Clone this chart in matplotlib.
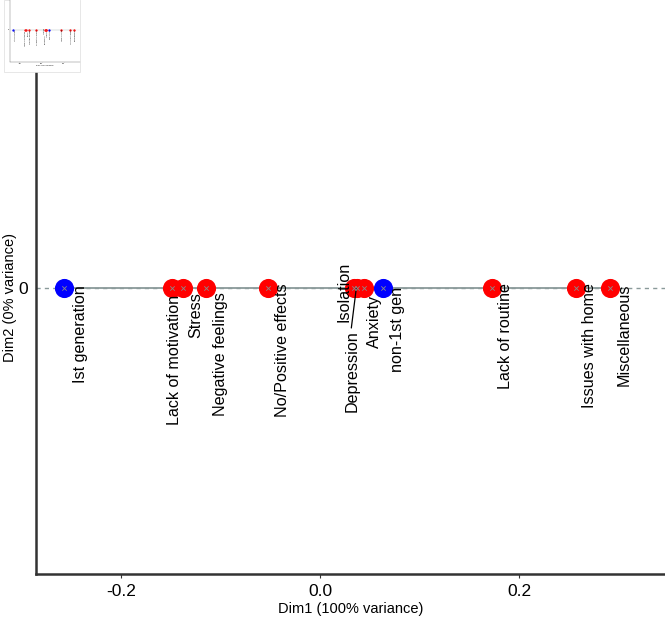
import matplotlib
matplotlib.use("Agg")
import matplotlib.pyplot as plt

plt.rcParams['font.family'] = ['Liberation Sans', 'DejaVu Sans']

# ---- data ----
labels = ["Ist generation", "Lack of motivation", "Stress", "Negative feelings",
          "No/Positive effects", "Isolation", "Depression", "Anxiety",
          "non-1st gen", "Lack of routine", "Issues with home", "Miscellaneous"]
dim1 = [-0.257, -0.149, -0.138, -0.115, -0.052, 0.034, 0.037, 0.044,
        0.063, 0.173, 0.257, 0.291]
dim2 = [0, 0, 0, 0, 0, 0, 0, 0, 0, 0, 0, 0]
groups = ["row", "col", "col", "col", "col", "col", "col", "col",
          "row", "col", "col", "col"]
xticks = [-0.2, 0.0, 0.2]
xticklabels = ["-0.2", "0.0", "0.2"]
yticks = [0]
yticklabels = ["0"]

# ---- styles ----
colors = {"row": "#0000FF", "col": "#FF0000"}
# label offsets in pixels (dx right, dy down from point to text top)
offsets = [(16, -3), (3, 7), (13, 4), (15, 4), (14, -5), (-10, -26),
           (-5, 42), (11, 7), (15, -1), (13, -5), (14, -5), (15, -5)]

W, H = 665, 618
fig = plt.figure(figsize=(W / 100, H / 100), dpi=100)
ax = fig.add_axes([36 / W, (H - 574) / H, (W - 36) / W, (574 - 22) / H])

xlim = (-0.2854, 0.3467)
top_frac = (574 - 288) / (574 - 22)
ylim = (-top_frac, 1 - top_frac)


def draw(a, small=False):
    s = 0.12 if small else 1.0
    a.axhline(0, color="#8a9a9a", lw=1.0 * s, ls=(0, (3, 3)), zorder=1)
    a.plot([min(dim1), max(dim1)], [0, 0], color="#8a9a9a", lw=1.3 * s, zorder=1)
    for x, y, g in zip(dim1, dim2, groups):
        a.scatter([x], [y], s=190 * s * s, color=colors[g], zorder=3, linewidths=0)
        a.scatter([x], [y], s=10 * s * s, marker="x", color="#8a8a8a",
                  linewidths=0.6 * s, zorder=4)
    for lab, x, y, (dx, dy) in zip(labels, dim1, dim2, offsets):
        a.annotate(lab, xy=(x, y), xytext=(dx * s, -dy * s), textcoords="offset pixels",
                   rotation=90, ha="center", va="top", fontsize=11.6 * s,
                   color="black", zorder=5)
    a.set_xlim(xlim)
    a.set_ylim(ylim)
    a.set_xticks(xticks)
    a.set_xticklabels(xticklabels, fontsize=12.5 * s)
    a.set_yticks(yticks)
    a.set_yticklabels(yticklabels, fontsize=12.5 * s)
    a.tick_params(axis="x", length=3 * s, width=0.8 * s, color="#333333", pad=4 * s)
    a.tick_params(axis="y", length=0, pad=6 * s)
    for sp in ["top", "right"]:
        a.spines[sp].set_visible(False)
    for sp in ["left", "bottom"]:
        a.spines[sp].set_color("#333333")
        a.spines[sp].set_linewidth(1.8 * s)
    a.set_xlabel("Dim1 (100% variance)", fontsize=10.5 * s, labelpad=2 * s)


draw(ax)
# Depression leader segment
ax.annotate("", xy=(0.0365, 0), xytext=(-5, -40), textcoords="offset pixels",
            xycoords="data",
            arrowprops=dict(arrowstyle="-", color="black", lw=0.9, shrinkA=0, shrinkB=0))
fig.text(10 / W, 1 - 298 / H, "Dim2 (0% variance)", rotation=90, ha="center",
         va="center", fontsize=10.5)

# small thumbnail in top-left corner
ins = fig.add_axes([10 / W, 1 - 62 / H, 70 / W, 62 / H], zorder=10)
ins.set_facecolor("white")
draw(ins, small=True)
bg = plt.Rectangle((4 / W, 1 - 72 / H), 76 / W, 72 / H, transform=fig.transFigure,
                   facecolor="white", edgecolor="#dddddd", lw=0.5, zorder=9)
fig.patches.append(bg)

fig.savefig("out.png", dpi=100)
